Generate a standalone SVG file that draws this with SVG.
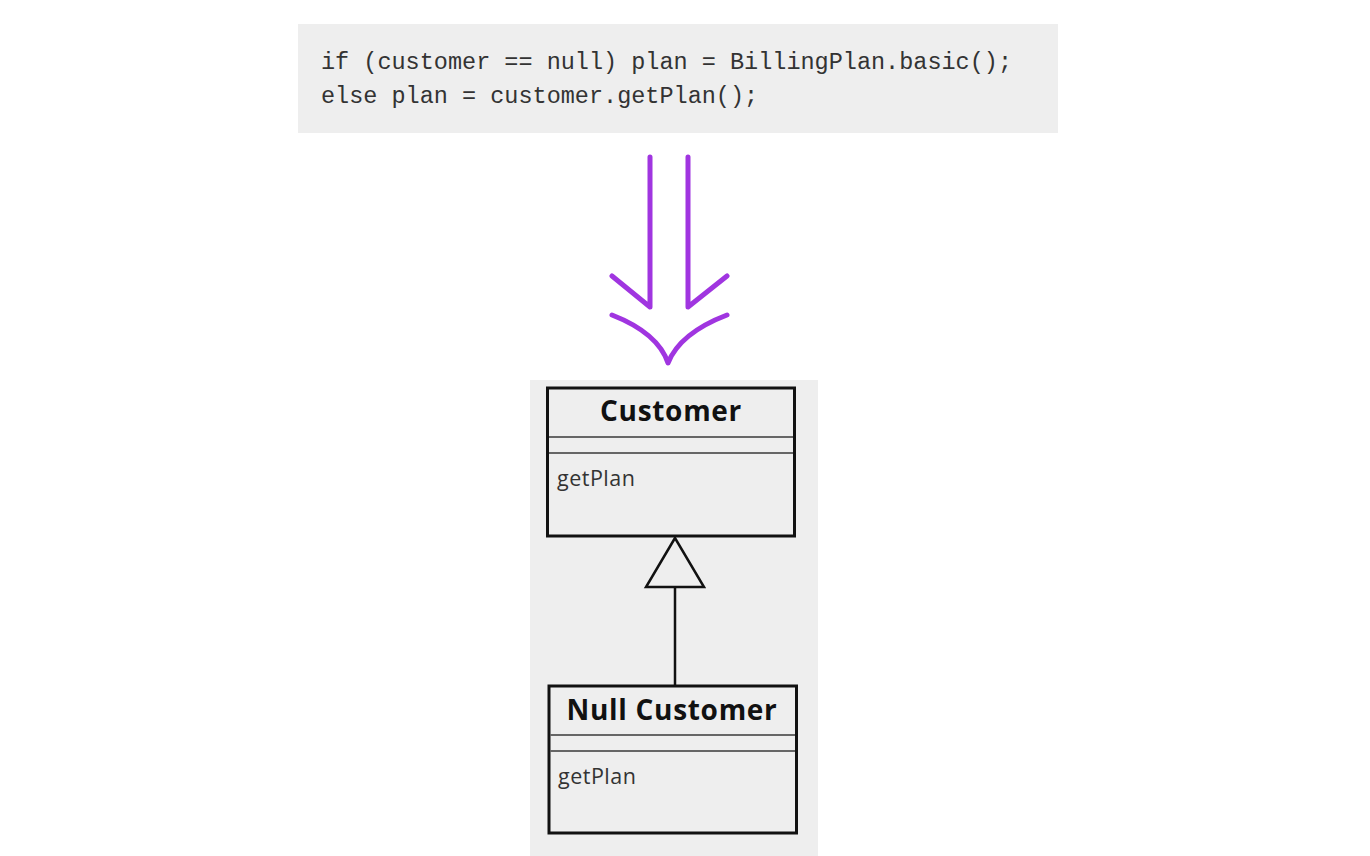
<svg xmlns="http://www.w3.org/2000/svg" width="1370" height="856" viewBox="0 0 1370 856">
  <style>
    .code { font-family: "Liberation Mono", "DejaVu Sans Mono", monospace; font-size: 23.5px; fill: #333333; }
    .title { font-family: "Open Sans", "Noto Sans", sans-serif; font-size: 28px; font-weight: bold; letter-spacing: 0.7px; fill: #111111; text-anchor: middle; }
    .op { font-family: "Open Sans", "Noto Sans", sans-serif; font-size: 21.5px; letter-spacing: 0.5px; fill: #333333; }
    .box { fill: none; stroke: #111111; stroke-width: 3; }
    .sep { stroke: #666666; stroke-width: 2; }
    .purple { fill: none; stroke: #a035e0; stroke-width: 5; stroke-linecap: round; stroke-linejoin: round; }
    .conn { fill: none; stroke: #111111; stroke-width: 2.5; }
  </style>
  <rect width="1370" height="856" fill="#ffffff"/>

  <g id="code">
    <rect x="298" y="24" width="760" height="109" fill="#eeeeee"/>
    <text class="code" x="321" y="69">if (customer == null) plan = BillingPlan.basic();</text>
    <text class="code" x="321" y="103">else plan = customer.getPlan();</text>
  </g>

  <g id="transform-arrow">
    <path class="purple" d="M650,157 L650,307 L612,276"/>
    <path class="purple" d="M688,157 L688,307 L727,276"/>
    <path class="purple" d="M612,315 Q658,333 668,363 Q680,333 727,315"/>
  </g>

  <rect id="uml-bg" x="530" y="380" width="288" height="476" fill="#eeeeee"/>

  <g id="connectors">
    <line class="conn" x1="675" y1="587" x2="675" y2="685"/>
    <polygon class="conn" points="675,538 646,587 704,587"/>
  </g>

  <g id="customer">
    <rect class="box" x="547.5" y="388" width="247" height="148"/>
    <line class="sep" x1="549" y1="437" x2="793" y2="437"/>
    <line class="sep" x1="549" y1="453" x2="793" y2="453"/>
    <text class="title" x="671" y="421">Customer</text>
    <text class="op" x="557" y="486">getPlan</text>
  </g>

  <g id="null-customer">
    <rect class="box" x="549" y="686" width="247.5" height="147"/>
    <line class="sep" x1="550" y1="735" x2="795" y2="735"/>
    <line class="sep" x1="550" y1="751" x2="795" y2="751"/>
    <text class="title" x="672" y="720">Null Customer</text>
    <text class="op" x="558" y="784">getPlan</text>
  </g>
</svg>
